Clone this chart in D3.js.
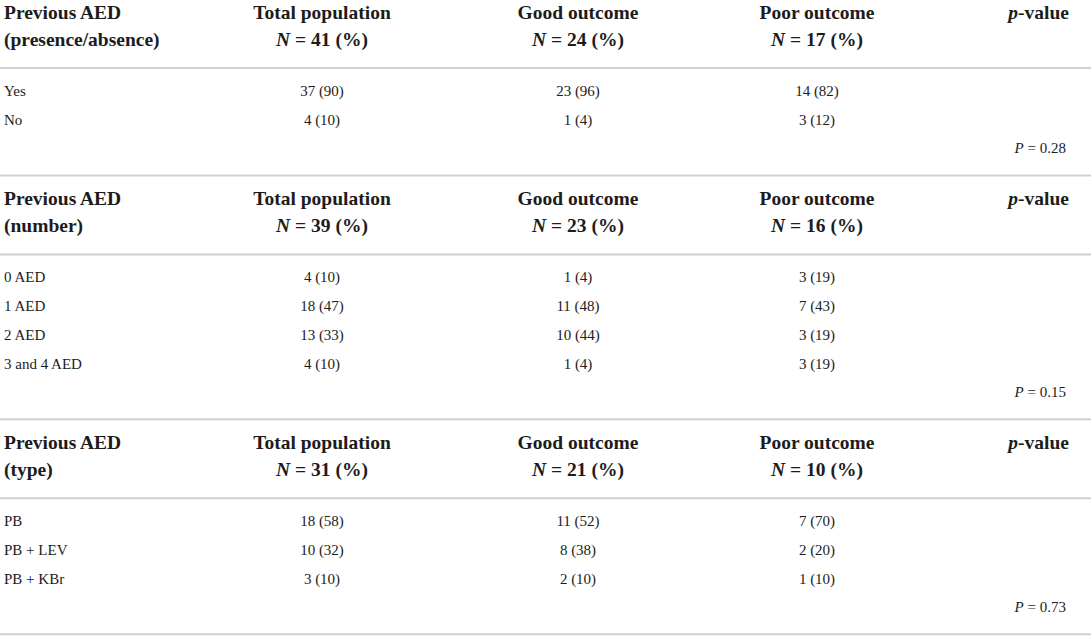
<!DOCTYPE html>
<html>
<head>
<meta charset="utf-8">
<script src="https://cdn.jsdelivr.net/npm/d3@7"></script>
<style>
  html, body { margin: 0; padding: 0; background: #fff; }
  svg { display: block; }
  text { font-family: "Liberation Serif", "DejaVu Serif", serif; fill: #1c1c1c; }
  .head { font-size: 19.5px; font-weight: bold; }
  .cell { font-size: 15px; }
</style>
</head>
<body>
<svg id="chart"></svg>
<script>
const width = 1091, height = 639;

// table content
const columns = ["Total population", "Good outcome", "Poor outcome"];
const sectionNames = ["presence/absence", "number", "type"];
const sectionN = [[41, 24, 17], [39, 23, 16], [31, 21, 10]];
const rowLabels = [
  ["Yes", "No"],
  ["0 AED", "1 AED", "2 AED", "3 and 4 AED"],
  ["PB", "PB + LEV", "PB + KBr"]
];
const counts = [
  [[37, 23, 14], [4, 1, 3]],
  [[4, 1, 3], [18, 11, 7], [13, 10, 3], [4, 1, 3]],
  [[18, 11, 7], [10, 8, 2], [3, 2, 1]]
];
const percents = [
  [[90, 96, 82], [10, 4, 12]],
  [[10, 4, 19], [47, 48, 43], [33, 44, 19], [10, 4, 19]],
  [[58, 52, 70], [32, 38, 20], [10, 10, 10]]
];
const pValues = ["0.28", "0.15", "0.73"];

const x = d3.scaleOrdinal().domain(columns).range([322, 578, 817]);
const xLeft = 4, xRight = 1069;
const rowStep = 28.7;

const svg = d3.select("#chart").attr("width", width).attr("height", height);

function rule(y) {
  svg.append("line")
    .attr("x1", 0).attr("x2", width)
    .attr("y1", y).attr("y2", y)
    .attr("stroke", "#d0d0d0")
    .attr("stroke-width", 2);
}

let sectionTop = -11;

sectionNames.forEach((name, s) => {
  const line1 = sectionTop + 29.5,
    line2 = line1 + 27.5,
    headRule = line2 + 22;

  // header, first column
  svg.append("text").attr("class", "head").attr("x", xLeft).attr("y", line1).text("Previous AED");
  svg.append("text").attr("class", "head").attr("x", xLeft).attr("y", line2).text("(" + name + ")");

  // header, group columns
  columns.forEach((col, c) => {
    svg.append("text").attr("class", "head")
      .attr("x", x(col)).attr("y", line1)
      .attr("text-anchor", "middle")
      .text(col);
    const t = svg.append("text").attr("class", "head")
      .attr("x", x(col)).attr("y", line2)
      .attr("text-anchor", "middle");
    t.append("tspan").style("font-style", "italic").text("N");
    t.append("tspan").text(" = " + sectionN[s][c] + " (%)");
  });

  const pv = svg.append("text").attr("class", "head")
    .attr("x", xRight).attr("y", line1)
    .attr("text-anchor", "end");
  pv.append("tspan").style("font-style", "italic").text("p");
  pv.append("tspan").text("-value");

  rule(headRule);

  // body rows
  const rowY = d3.scaleLinear().domain([0, 1]).range([headRule + 28, headRule + 28 + rowStep]);

  rowLabels[s].forEach((label, r) => {
    svg.append("text").attr("class", "cell")
      .attr("x", xLeft).attr("y", rowY(r))
      .text(label);
    columns.forEach((col, c) => {
      svg.append("text").attr("class", "cell")
        .attr("x", x(col)).attr("y", rowY(r))
        .attr("text-anchor", "middle")
        .text(counts[s][r][c] + " (" + percents[s][r][c] + ")");
    });
  });

  const pY = rowY(rowLabels[s].length);
  const p = svg.append("text").attr("class", "cell")
    .attr("x", xRight - 3).attr("y", pY)
    .attr("text-anchor", "end");
  p.append("tspan").style("font-style", "italic").text("P");
  p.append("tspan").text(" = " + pValues[s]);

  sectionTop = pY + 22;
  rule(sectionTop);
});
</script>
</body>
</html>
